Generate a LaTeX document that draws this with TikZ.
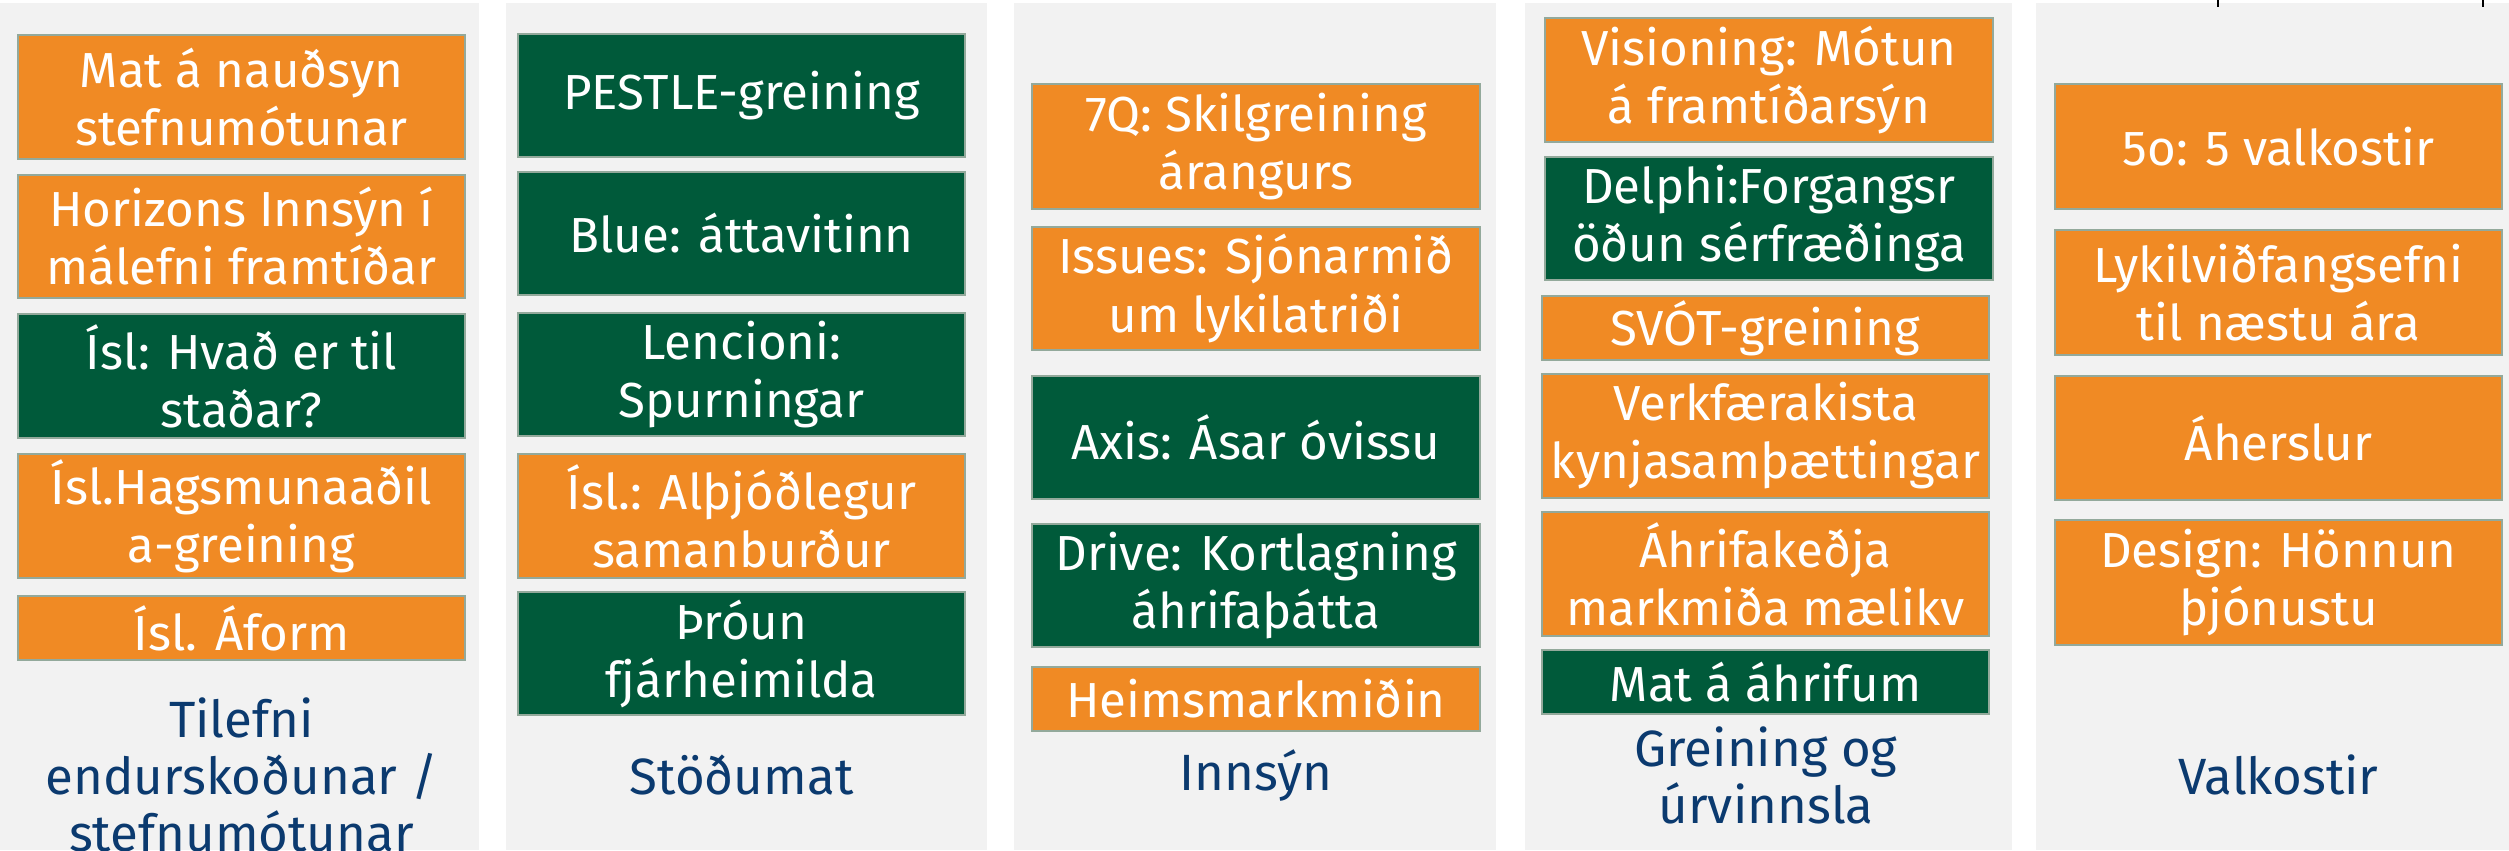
\documentclass[tikz,border=0pt]{standalone}
\usepackage{fontspec}
\setmainfont{Fira Sans}
\usepackage{xcolor}
\definecolor{boxorange}{HTML}{F08A24}
\definecolor{boxgreen}{HTML}{005A3A}
\definecolor{boxline}{HTML}{93A99B}
\definecolor{panelgray}{HTML}{F2F2F2}
\definecolor{titleblue}{HTML}{0B3A6F}
\tikzset{
	tool/.style={draw=boxline,line width=0.6pt,minimum width=4.47cm,inner sep=0pt,outer sep=0pt,align=center,text=white,font=\fontsize{14}{16.5}\selectfont},
	obox/.style={tool,fill=boxorange},
	gbox/.style={tool,fill=boxgreen},
	phase/.style={align=center,text=titleblue,font=\fontsize{14.5}{16.2}\selectfont}
}
\newcommand{\ptpanel}[2]{\fill[panelgray] (#1,3) rectangle (#2,850);}
\newcommand{\ptbox}[6]{\node[#2,minimum height=#5cm] (#1) at (#3,#4) {#6};}

\begin{document}
\begin{tikzpicture}[x=0.01cm,y=-0.01cm]
	\useasboundingbox (0,0) rectangle (2509,850);
	\fill[white] (0,0) rectangle (2509,850);
	
	\ptpanel{0}{479}
	\ptpanel{506}{987}
	\ptpanel{1014}{1496}
	\ptpanel{1525}{2012}
	\ptpanel{2036}{2509}
	
	% Tilefni
	\ptbox{ta}{obox}{241.5}{97}{1.24}{Mat á nauðsyn\\stefnumótunar}
	\ptbox{tb}{obox}{241.5}{236.5}{1.23}{Horizons Innsýn í\\málefni framtíðar}
	\ptbox{tc}{gbox}{241.5}{376}{1.24}{Ísl: Hvað er til\\staðar?}
	\ptbox{td}{obox}{241.5}{516}{1.24}{Ísl.Hagsmunaaðil\\a-greining}
	\ptbox{te}{obox}{241.5}{628}{0.64}{Ísl. Áform}
	\node[phase] (t) at (241.5,775) {Tilefni\\endurskoðunar /\\stefnumótunar};
	
	% Stodumat
	\ptbox{sa}{gbox}{741.5}{95.5}{1.23}{PESTLE-greining}
	\ptbox{sb}{gbox}{741.5}{233.5}{1.23}{Blue: áttavitinn}
	\ptbox{sc}{gbox}{741.5}{374.5}{1.23}{Lencioni:\\Spurningar}
	\ptbox{sd}{obox}{741.5}{516}{1.24}{Ísl.: Alþjóðlegur\\samanburður}
	\ptbox{se}{gbox}{741.5}{653.5}{1.23}{Þróun\\fjárheimilda}
	\node[phase] (s) at (741.5,775) {Stöðumat};
	
	% Innsyn
	\ptbox{ia}{obox}{1256}{146.5}{1.25}{7Q: Skilgreining\\árangurs}
	\ptbox{ib}{obox}{1256}{288.5}{1.23}{Issues: Sjónarmið\\um lykilatriði}
	\ptbox{ic}{gbox}{1256}{437.5}{1.23}{Axis: Ásar óvissu}
	\ptbox{id}{gbox}{1256}{585.5}{1.23}{Drive: Kortlagning\\áhrifaþátta}
	\ptbox{ie}{obox}{1256}{699}{0.64}{Heimsmarkmiðin}
	\node[phase] (i) at (1256,775) {Innsýn};
	
	% Greining
	\ptbox{ga}{obox}{1769}{80}{1.24}{Visioning: Mótun\\á framtíðarsýn}
	\ptbox{gb}{gbox}{1769}{218.5}{1.23}{Delphi:Forgangsr\\öðun sérfræðinga}
	\ptbox{gc}{obox}{1765.5}{328}{0.64}{SVÓT-greining}
	\ptbox{gd}{obox}{1765.5}{436}{1.24}{Verkfærakista\\kynjasamþættingar}
	\ptbox{ge}{obox}{1765.5}{574}{1.24}{Áhrifakeðja\\markmiða mælikv}
	\ptbox{gf}{gbox}{1765.5}{682}{0.64}{Mat á áhrifum}
	\node[phase] (g) at (1766,775) {Greining og\\úrvinnsla};
	
	% Valkostir
	\ptbox{va}{obox}{2278.5}{146.5}{1.25}{5o: 5 valkostir}
	\ptbox{vb}{obox}{2278.5}{292.5}{1.25}{Lykilviðfangsefni\\til næstu ára}
	\ptbox{vc}{obox}{2278.5}{438}{1.24}{Áherslur}
	\ptbox{vd}{obox}{2278.5}{582.5}{1.25}{Design: Hönnun\\þjónustu}
	\node[phase] (v) at (2278.5,775) {Valkostir};
	
	\draw[line width=0.8pt] (2218,0) -- (2218,7);
	\draw[line width=0.8pt] (2483,0) -- (2483,7);
\end{tikzpicture}
\end{document}
